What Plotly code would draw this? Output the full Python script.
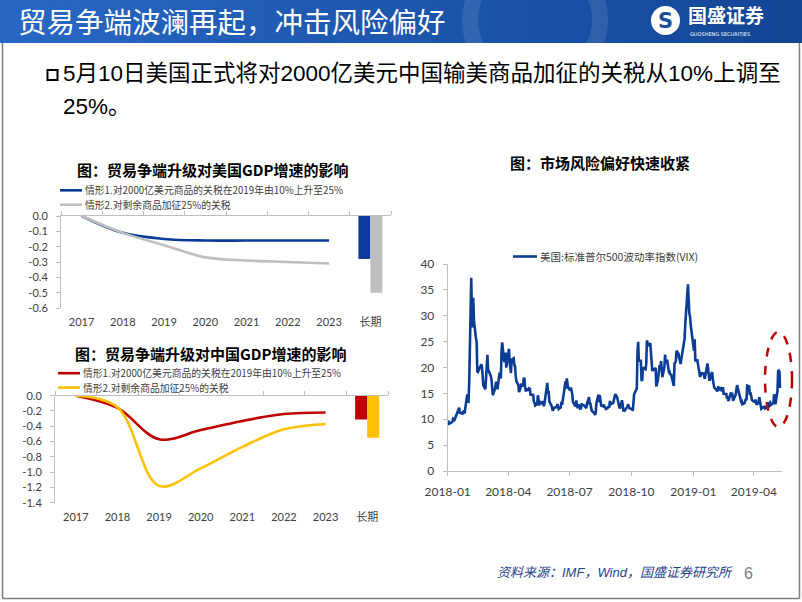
import plotly.graph_objects as go

W, H = 802, 602
def px(x): return x / W
def py(y): return 1 - y / H

CJK = "Noto Sans CJK SC"
TICKF = "Lato, Noto Sans CJK SC"

# ---------------- data ----------------
years = ['2017', '2018', '2019', '2020', '2021', '2022', '2023']
long_cat = ['长期']
cats = years + long_cat

us_s1 = [0.0, -0.11, -0.15, -0.16, -0.16, -0.16, -0.16]
us_s2 = [0.0, -0.11, -0.19, -0.27, -0.29, -0.30, -0.31]
us_long = [-0.28, -0.50]
us_yticks = [0.0, -0.1, -0.2, -0.3, -0.4, -0.5, -0.6]

cn_s1 = [0.0, -0.16, -0.57, -0.45, -0.33, -0.24, -0.22]
cn_s2 = [0.0, -0.15, -1.18, -0.95, -0.67, -0.44, -0.37]
cn_long = [-0.31, -0.55]
cn_yticks = [0.0, -0.2, -0.4, -0.6, -0.8, -1.0, -1.2, -1.4]

s1_name = '情形1.对2000亿美元商品的关税在2019年由10%上升至25%'
s2_name = '情形2.对剩余商品加征25%的关税'
vix_name = '美国:标准普尔500波动率指数(VIX)'

vix_dates = [
 '2018-01-02','2018-01-03','2018-01-04','2018-01-05','2018-01-08','2018-01-09','2018-01-10','2018-01-11','2018-01-12','2018-01-16','2018-01-17','2018-01-18','2018-01-19','2018-01-22','2018-01-23','2018-01-24','2018-01-25','2018-01-26','2018-01-29','2018-01-30','2018-01-31',
 '2018-02-01','2018-02-02','2018-02-05','2018-02-06','2018-02-07','2018-02-08','2018-02-09','2018-02-12','2018-02-13','2018-02-14','2018-02-15','2018-02-16','2018-02-20','2018-02-21','2018-02-22','2018-02-23','2018-02-26','2018-02-27','2018-02-28',
 '2018-03-01','2018-03-02','2018-03-05','2018-03-06','2018-03-07','2018-03-08','2018-03-09','2018-03-12','2018-03-13','2018-03-14','2018-03-15','2018-03-16','2018-03-19','2018-03-20','2018-03-21','2018-03-22','2018-03-23','2018-03-26','2018-03-27','2018-03-28','2018-03-29',
 '2018-04-02','2018-04-03','2018-04-04','2018-04-05','2018-04-06','2018-04-09','2018-04-10','2018-04-11','2018-04-12','2018-04-13','2018-04-16','2018-04-17','2018-04-18','2018-04-19','2018-04-20','2018-04-23','2018-04-24','2018-04-25','2018-04-26','2018-04-27','2018-04-30',
 '2018-05-01','2018-05-02','2018-05-03','2018-05-04','2018-05-07','2018-05-08','2018-05-09','2018-05-10','2018-05-11','2018-05-14','2018-05-15','2018-05-16','2018-05-17','2018-05-18','2018-05-21','2018-05-22','2018-05-23','2018-05-24','2018-05-25','2018-05-29','2018-05-30','2018-05-31',
 '2018-06-01','2018-06-04','2018-06-05','2018-06-06','2018-06-07','2018-06-08','2018-06-11','2018-06-12','2018-06-13','2018-06-14','2018-06-15','2018-06-18','2018-06-19','2018-06-20','2018-06-21','2018-06-22','2018-06-25','2018-06-26','2018-06-27','2018-06-28','2018-06-29',
 '2018-07-02','2018-07-03','2018-07-05','2018-07-06','2018-07-09','2018-07-10','2018-07-11','2018-07-12','2018-07-13','2018-07-16','2018-07-17','2018-07-18','2018-07-19','2018-07-20','2018-07-23','2018-07-24','2018-07-25','2018-07-26','2018-07-27','2018-07-30','2018-07-31',
 '2018-08-01','2018-08-02','2018-08-03','2018-08-06','2018-08-07','2018-08-08','2018-08-09','2018-08-10','2018-08-13','2018-08-14','2018-08-15','2018-08-16','2018-08-17','2018-08-20','2018-08-21','2018-08-22','2018-08-23','2018-08-24','2018-08-27','2018-08-28','2018-08-29','2018-08-30','2018-08-31',
 '2018-09-04','2018-09-05','2018-09-06','2018-09-07','2018-09-10','2018-09-11','2018-09-12','2018-09-13','2018-09-14','2018-09-17','2018-09-18','2018-09-19','2018-09-20','2018-09-21','2018-09-24','2018-09-25','2018-09-26','2018-09-27','2018-09-28',
 '2018-10-01','2018-10-02','2018-10-03','2018-10-04','2018-10-05','2018-10-08','2018-10-09','2018-10-10','2018-10-11','2018-10-12','2018-10-15','2018-10-16','2018-10-17','2018-10-18','2018-10-19','2018-10-22','2018-10-23','2018-10-24','2018-10-25','2018-10-26','2018-10-29','2018-10-30','2018-10-31',
 '2018-11-01','2018-11-02','2018-11-05','2018-11-06','2018-11-07','2018-11-08','2018-11-09','2018-11-12','2018-11-13','2018-11-14','2018-11-15','2018-11-16','2018-11-19','2018-11-20','2018-11-21','2018-11-23','2018-11-26','2018-11-27','2018-11-28','2018-11-29','2018-11-30',
 '2018-12-03','2018-12-04','2018-12-06','2018-12-07','2018-12-10','2018-12-11','2018-12-12','2018-12-13','2018-12-14','2018-12-17','2018-12-18','2018-12-19','2018-12-20','2018-12-21','2018-12-24','2018-12-26','2018-12-27','2018-12-28','2018-12-31',
 '2019-01-02','2019-01-03','2019-01-04','2019-01-07','2019-01-08','2019-01-09','2019-01-10','2019-01-11','2019-01-14','2019-01-15','2019-01-16','2019-01-17','2019-01-18','2019-01-22','2019-01-23','2019-01-24','2019-01-25','2019-01-28','2019-01-29','2019-01-30','2019-01-31',
 '2019-02-01','2019-02-04','2019-02-05','2019-02-06','2019-02-07','2019-02-08','2019-02-11','2019-02-12','2019-02-13','2019-02-14','2019-02-15','2019-02-19','2019-02-20','2019-02-21','2019-02-22','2019-02-25','2019-02-26','2019-02-27','2019-02-28',
 '2019-03-01','2019-03-04','2019-03-05','2019-03-06','2019-03-07','2019-03-08','2019-03-11','2019-03-12','2019-03-13','2019-03-14','2019-03-15','2019-03-18','2019-03-19','2019-03-20','2019-03-21','2019-03-22','2019-03-25','2019-03-26','2019-03-27','2019-03-28','2019-03-29',
 '2019-04-01','2019-04-02','2019-04-03','2019-04-04','2019-04-05','2019-04-08','2019-04-09','2019-04-10','2019-04-11','2019-04-12','2019-04-15','2019-04-16','2019-04-17','2019-04-18','2019-04-22','2019-04-23','2019-04-24','2019-04-25','2019-04-26','2019-04-29','2019-04-30',
 '2019-05-01','2019-05-02','2019-05-03','2019-05-06','2019-05-07','2019-05-08','2019-05-09','2019-05-10']

vix_values = [
 9.77,9.15,9.22,9.22,9.52,10.08,9.82,9.88,10.16,11.66,11.91,12.22,11.27,11.03,11.10,11.47,11.58,11.08,13.84,14.79,13.54,
 13.47,17.31,37.32,29.98,27.73,33.46,29.06,25.61,24.97,19.26,19.13,19.46,20.60,20.02,18.72,16.49,15.80,18.59,19.85,
 22.47,19.59,18.73,18.36,17.76,16.54,14.64,15.78,16.35,17.23,16.59,15.80,19.02,18.20,17.86,23.34,24.87,21.03,22.50,22.87,19.97,
 23.62,21.10,20.06,18.94,21.49,21.77,20.47,20.24,18.49,17.41,16.56,15.25,15.60,15.96,16.88,16.34,18.02,17.84,16.24,15.41,15.93,
 15.49,15.97,15.90,14.77,14.75,14.71,13.42,13.23,12.65,12.93,14.63,13.42,12.64,13.42,13.08,13.22,12.58,12.53,13.22,17.02,14.94,15.43,
 13.46,12.74,12.40,11.64,12.13,12.18,12.35,12.34,12.94,12.12,11.98,12.31,13.35,12.79,13.77,13.77,17.33,15.92,17.91,16.85,16.09,
 15.60,16.14,14.97,13.37,12.69,12.64,13.63,12.58,12.18,12.83,12.06,12.10,12.87,12.86,12.62,12.41,12.29,12.14,13.03,14.26,12.83,
 13.15,12.19,11.64,11.27,10.93,10.85,11.27,13.16,14.78,13.31,14.64,13.45,12.64,12.49,12.86,12.25,12.41,11.99,12.16,12.50,12.25,13.53,12.86,
 13.16,13.91,14.65,14.88,14.16,13.22,13.14,12.37,12.07,13.68,12.79,11.75,11.80,11.68,12.20,12.42,12.89,12.41,12.12,
 12.00,12.05,11.61,14.22,14.82,15.69,15.95,22.96,24.98,21.31,21.30,17.62,17.40,20.06,19.89,19.64,20.71,25.23,24.22,24.16,24.70,23.35,21.23,
 19.34,19.51,19.96,19.91,16.36,16.72,17.36,20.45,20.02,21.25,19.98,18.14,20.10,22.48,20.80,21.52,18.90,19.02,18.49,18.79,18.07,
 16.44,20.74,21.19,23.23,22.64,21.76,21.46,20.65,21.63,24.52,25.58,25.58,28.38,30.11,36.07,30.41,29.96,28.34,25.42,
 23.22,25.45,21.38,21.40,20.47,19.98,19.50,18.19,19.07,18.60,19.04,18.06,17.80,20.80,19.52,18.89,17.42,18.87,19.13,17.66,16.57,
 16.14,15.73,15.57,15.38,16.37,15.72,15.97,15.43,15.65,16.22,14.91,14.88,14.02,14.46,13.51,14.85,15.17,14.70,14.78,
 13.57,14.63,14.74,15.74,16.59,16.05,14.33,13.77,13.41,13.50,12.88,13.10,13.56,13.91,13.63,16.48,16.33,14.68,15.15,14.43,13.71,
 13.40,13.36,13.74,13.58,12.82,13.18,14.28,13.30,13.02,12.01,12.32,12.18,12.60,12.09,12.42,12.28,13.14,13.25,12.73,13.11,13.12,
 14.80,14.42,12.87,15.44,19.32,19.40,19.10,16.04]

vix_yticks = [0, 5, 10, 15, 20, 25, 30, 35, 40]

# ---------------- colours ----------------
US_BLUE = '#0b3a9c'
US_GRAY = '#bfbfbf'
CN_RED = '#c00000'
CN_YEL = '#ffc000'
VIX_BLUE = '#0b3d95'
AX = '#bfbfbf'
TXT = '#404040'

fig = go.Figure()

def line(x, y, color, xa, ya):
    return go.Scatter(x=x, y=y, mode='lines', xaxis=xa, yaxis=ya,
                      line=dict(color=color, width=2.6, shape='spline', smoothing=1.0),
                      showlegend=False, hoverinfo='skip')

# US chart
fig.add_trace(line(years, us_s1, US_BLUE, 'x', 'y'))
fig.add_trace(line(years, us_s2, US_GRAY, 'x', 'y'))
fig.add_trace(go.Bar(x=long_cat, y=[us_long[0]], marker=dict(color=US_BLUE, line=dict(width=0)), xaxis='x', yaxis='y', showlegend=False, hoverinfo='skip'))
fig.add_trace(go.Bar(x=long_cat, y=[us_long[1]], marker=dict(color=US_GRAY, line=dict(width=0)), xaxis='x', yaxis='y', showlegend=False, hoverinfo='skip'))
fig.add_trace(go.Scatter(x=cats, y=[None] * len(cats), xaxis='x2', yaxis='y', mode='lines', showlegend=False, hoverinfo='skip'))

# China chart
fig.add_trace(line(years, cn_s1, CN_RED, 'x3', 'y2'))
fig.add_trace(line(years, cn_s2, CN_YEL, 'x3', 'y2'))
fig.add_trace(go.Bar(x=long_cat, y=[cn_long[0]], marker=dict(color=CN_RED, line=dict(width=0)), xaxis='x3', yaxis='y2', showlegend=False, hoverinfo='skip'))
fig.add_trace(go.Bar(x=long_cat, y=[cn_long[1]], marker=dict(color=CN_YEL, line=dict(width=0)), xaxis='x3', yaxis='y2', showlegend=False, hoverinfo='skip'))
fig.add_trace(go.Scatter(x=cats, y=[None] * len(cats), xaxis='x4', yaxis='y2', mode='lines', showlegend=False, hoverinfo='skip'))

# VIX chart
fig.add_trace(go.Scatter(x=vix_dates, y=vix_values, mode='lines', xaxis='x5', yaxis='y3',
                         line=dict(color=VIX_BLUE, width=2.6), showlegend=False, hoverinfo='skip'))

tickfont = dict(family=TICKF, size=11, color=TXT)

def cat_axes(x0, x1, ya):
    base = dict(type='category', categoryorder='array', categoryarray=cats, range=[-0.5, 7.5],
                showgrid=False, zeroline=False, fixedrange=True, automargin=False,
                domain=[px(x0), px(x1)], anchor=ya)
    lab = dict(base, showline=False, ticks='', tickfont=tickfont, ticklabelstandoff=6)
    top = dict(base, side='top', showline=True, linecolor=AX, linewidth=1, ticks='outside',
               ticklen=4, tickcolor=AX, tickson='boundaries', showticklabels=False)
    return lab, top

def y_axis(y0, y1, xa, vals):
    return dict(domain=[py(y1), py(y0)], anchor=xa, range=[min(vals), max(vals)],
                tickvals=vals, ticktext=['%.1f' % v for v in vals], showline=True, linecolor=AX,
                linewidth=1, ticks='outside', ticklen=4, tickcolor=AX, showgrid=False, zeroline=False,
                tickfont=tickfont, ticklabelstandoff=6, fixedrange=True, automargin=False)

x_lab, x_top = cat_axes(61, 391, 'y')
x3_lab, x4_top = cat_axes(55, 388, 'y2')
x_top['overlaying'] = 'x'
x4_top['overlaying'] = 'x3'

shapes = []
annotations = []

def ann(text, x, y, size, color='black', family=CJK, xanchor='left', align='left'):
    annotations.append(dict(text=text, x=px(x), y=py(y), xref='paper', yref='paper', showarrow=False,
                            xanchor=xanchor, yanchor='middle', align=align,
                            font=dict(family=family, size=size, color=color)))

# header gradient banner
N = 60
c0 = (40, 104, 196)
c1 = (20, 70, 150)
for i in range(N):
    t = i / (N - 1)
    c = tuple(int(c0[k] + (c1[k] - c0[k]) * t) for k in range(3))
    shapes.append(dict(type='rect', xref='paper', yref='paper', x0=i / N, x1=(i + 1) / N + 0.002,
                       y0=py(43), y1=1, fillcolor='rgb(%d,%d,%d)' % c, line=dict(width=0), layer='below'))
shapes.append(dict(type='circle', xref='paper', yref='paper', x0=px(470), x1=px(600), y0=py(80), y1=py(-40),
                   line=dict(color='rgba(255,255,255,0.10)', width=16), layer='below'))
# logo
shapes.append(dict(type='circle', xref='paper', yref='paper', x0=px(651), x1=px(680), y0=py(35), y1=py(6),
                   fillcolor='white', line=dict(width=0)))
ann('<b>S</b>', 665.5, 21, 21, '#1b4f9e', 'DejaVu Sans', 'center', 'center')
ann('<b>国盛证券</b>', 686, 15, 19, 'white')
ann('GUOSHENG SECURITIES', 688, 34, 5, 'white', 'DejaVu Sans')
ann('贸易争端波澜再起，冲击风险偏好', 16, 21, 28.5, 'white')

# slide frame
frame = dict(color='#7f7f7f', width=1.5)
shapes.append(dict(type='line', xref='paper', yref='paper', x0=px(2.5), x1=px(2.5), y0=py(598.5), y1=py(43), line=frame))
shapes.append(dict(type='line', xref='paper', yref='paper', x0=px(799.5), x1=px(799.5), y0=py(598.5), y1=py(43), line=frame))
shapes.append(dict(type='line', xref='paper', yref='paper', x0=px(2.5), x1=px(799.5), y0=py(598.5), y1=py(598.5), line=frame))

# bullet
shapes.append(dict(type='rect', xref='paper', yref='paper', x0=px(47.5), x1=px(57.5), y0=py(80), y1=py(70),
                   line=dict(color='black', width=2), fillcolor='white'))
BF = 'Liberation Sans, ' + CJK
ann('5月10日美国正式将对2000亿美元中国输美商品加征的关税从10%上调至', 61, 73.5, 22.5, 'black', BF)
ann('25%。', 61, 106.5, 22.5, 'black', BF)

# chart titles
ann('<b>图：贸易争端升级对美国GDP增速的影响</b>', 212, 170, 15, 'black', CJK, 'center', 'center')
ann('<b>图：贸易争端升级对中国GDP增速的影响</b>', 210, 353, 15, 'black', CJK, 'center', 'center')
ann('<b>图：市场风险偏好快速收紧</b>', 600, 163, 15, 'black', CJK, 'center', 'center')

# legends
def legend_item(text, color, lx0, lx1, y, tx, size=9.8):
    shapes.append(dict(type='line', xref='paper', yref='paper', x0=px(lx0), x1=px(lx1),
                       y0=py(y), y1=py(y), line=dict(color=color, width=2.6)))
    ann(text, tx, y, size, TXT)

legend_item(s1_name, US_BLUE, 60, 82, 190.3, 83)
legend_item(s2_name, US_GRAY, 60, 82, 204.7, 83)
legend_item(s1_name, CN_RED, 58, 80, 373.2, 81)
legend_item(s2_name, CN_YEL, 58, 80, 387.6, 81)
legend_item(vix_name, VIX_BLUE, 513, 537, 256.5, 538, 10.5)

# dashed ellipse highlight
shapes.append(dict(type='circle', xref='paper', yref='paper', x0=px(765), x1=px(792), y0=py(427), y1=py(332),
                   line=dict(color='#c00000', width=2.5, dash='dash')))

# footer
ann('<i>资料来源：IMF，Wind，国盛证券研究所</i>', 495, 572, 13, '#1f3f8f', 'Liberation Sans, ' + CJK)
ann('6', 748, 573, 16, '#7f7f7f', 'Liberation Sans', 'center', 'center')

fig.update_layout(
    template='none',
    width=W, height=H, autosize=False, margin=dict(l=0, r=0, t=0, b=0, pad=0),
    paper_bgcolor='white', plot_bgcolor='rgba(0,0,0,0)',
    showlegend=False, barmode='group', bargap=0.42, bargroupgap=0,
    xaxis=x_lab, xaxis2=x_top, xaxis3=x3_lab, xaxis4=x4_top,
    yaxis=y_axis(216, 308, 'x', us_yticks),
    yaxis2=y_axis(395.7, 502.7, 'x3', cn_yticks),
    xaxis5=dict(type='date', domain=[px(447.7), px(781.5)], anchor='y3', range=['2018-01-01', '2019-05-12'],
                tickformat='%Y-%m', dtick='M3', tick0='2018-01-01', showline=True, linecolor=AX, linewidth=1,
                ticks='outside', ticklen=4, tickcolor=AX, showgrid=False, zeroline=False, automargin=False,
                tickfont=dict(family=TICKF, size=12, color=TXT), ticklabelstandoff=6, fixedrange=True),
    yaxis3=dict(domain=[py(471), py(264)], anchor='x5', range=[0, 40], tickvals=vix_yticks,
                showline=True, linecolor=AX, linewidth=1, ticks='outside', ticklen=4, tickcolor=AX,
                showgrid=False, zeroline=False, tickfont=dict(family=TICKF, size=12, color=TXT),
                ticklabelstandoff=6, fixedrange=True, automargin=False),
    shapes=shapes, annotations=annotations,
)

fig.write_html("out.html", config=dict(displayModeBar=False),
               post_script="document.body.style.margin='0px';document.body.style.overflow='hidden';")
